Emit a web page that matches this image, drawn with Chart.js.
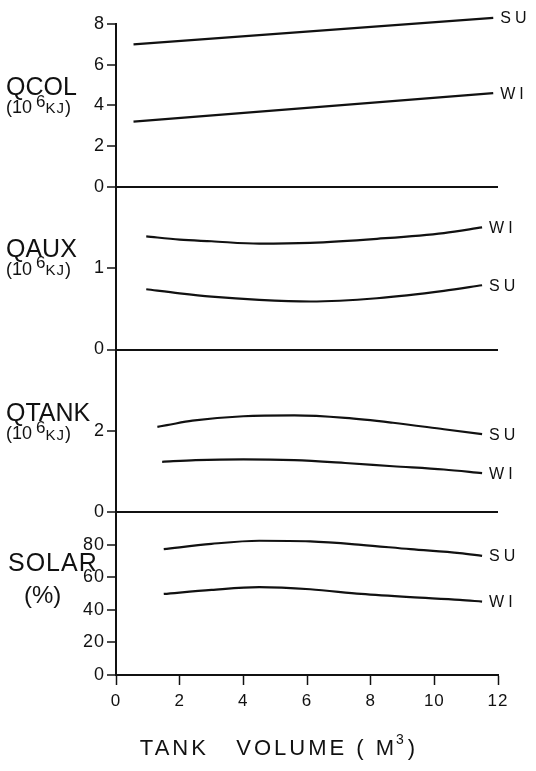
<!DOCTYPE html>
<html>
<head>
<meta charset="utf-8">
<script src="https://cdn.jsdelivr.net/npm/chart.js@4/dist/chart.umd.min.js"></script>
<style>
  html, body { margin: 0; padding: 0; background: #fff; }
  #wrap { width: 536px; height: 771px; }
</style>
</head>
<body>
<div id="wrap"><canvas id="c"></canvas></div>
<script>
// Collected heat, summer (SU) and winter (WI), 10^6 kJ
const qcolVol = [0.55, 11.85];
const qcolSU  = [7.0, 8.3];
const qcolWI  = [3.2, 4.6];

// Auxiliary heat, 10^6 kJ
const qauxVol = [0.95, 2.0, 3.0, 4.5, 6.1, 8.2, 10.3, 11.5];
const qauxWI  = [1.39, 1.35, 1.33, 1.30, 1.31, 1.36, 1.43, 1.50];
const qauxSU  = [0.74, 0.69, 0.65, 0.61, 0.59, 0.63, 0.72, 0.79];

// Tank heat, 10^6 kJ
const qtankVolSU = [1.3, 1.6, 2.4, 4.0, 5.6, 7.2, 8.7, 10.3, 11.5];
const qtankSU    = [2.10, 2.14, 2.25, 2.36, 2.38, 2.32, 2.20, 2.04, 1.92];
const qtankVolWI = [1.45, 2.5, 4.0, 5.6, 7.2, 8.7, 10.3, 11.5];
const qtankWI    = [1.24, 1.28, 1.30, 1.28, 1.21, 1.13, 1.05, 0.96];

// Solar fraction, %
const solarVol = [1.5, 3.0, 4.5, 6.1, 7.7, 9.25, 10.8, 11.5];
const solarSU  = [77.3, 80.6, 82.5, 82.1, 80.0, 77.3, 74.9, 73.2];
const solarWI  = [49.8, 52.3, 54.0, 52.7, 49.8, 47.8, 46.2, 45.1];

// Axis ticks
const volumeTicks = [0, 2, 4, 6, 8, 10, 12];
const qcolTicks   = [0, 2, 4, 6, 8];
const qauxTicks   = [0, 1];
const qtankTicks  = [0, 2];
const solarTicks  = [0, 20, 40, 60, 80];
const qcolMax = 8, qauxMax = 2, qtankMax = 4, solarMax = 100;

const INK = '#111';
const FONT = "'Liberation Sans', Arial, sans-serif";

const pts = (xs, ys) => xs.map((x, i) => ({ x, y: ys[i] }));
const series = (label, xs, ys, axis) => ({
  label, data: pts(xs, ys), yAxisID: axis,
  borderColor: INK, borderWidth: 2.2, pointRadius: 0,
  fill: false, cubicInterpolationMode: 'monotone', clip: false
});

const datasets = [
  series('SU', qcolVol, qcolSU, 'yCol'),
  series('WI', qcolVol, qcolWI, 'yCol'),
  series('WI', qauxVol, qauxWI, 'yAux'),
  series('SU', qauxVol, qauxSU, 'yAux'),
  series('SU', qtankVolSU, qtankSU, 'yTank'),
  series('WI', qtankVolWI, qtankWI, 'yTank'),
  series('SU', solarVol, solarSU, 'ySolar'),
  series('WI', solarVol, solarWI, 'ySolar')
];

function yPanel(max, tickList) {
  return {
    type: 'linear', position: 'left', stack: 'panels', stackWeight: 1,
    min: 0, max,
    afterBuildTicks: s => { s.ticks = tickList.map(v => ({ value: v })); },
    afterFit: s => { s.width = 116; },
    ticks: { color: INK, font: { family: FONT, size: 18 }, padding: 2, autoSkip: false },
    grid: {
      drawOnChartArea: true,
      color: c => (c.tick && c.tick.value === 0) ? INK : 'rgba(0,0,0,0)',
      lineWidth: 2,
      tickColor: INK, tickWidth: 1.5, tickLength: 9
    },
    border: { display: true, color: INK, width: 2 }
  };
}

// Side titles, series names and the volume axis title
const annotate = {
  id: 'annotate',
  beforeDraw(chart) { chart.ctx.letterSpacing = '1px'; },
  afterDatasetsDraw(chart) {
    const ctx = chart.ctx;
    ctx.save();
    ctx.fillStyle = INK;
    ctx.font = `16px ${FONT}`;
    ctx.letterSpacing = '4px';
    ctx.textBaseline = 'middle';
    ctx.textAlign = 'left';
    chart.data.datasets.forEach((ds, i) => {
      const pts = chart.getDatasetMeta(i).data;
      const last = pts[pts.length - 1];
      ctx.fillText(ds.label, last.x + 7, last.y + 1);
    });
    ctx.restore();
  },
  afterDraw(chart) {
    const ctx = chart.ctx;
    ctx.save();
    ctx.fillStyle = INK;
    ctx.textBaseline = 'middle';
    ctx.textAlign = 'left';

    const units = (x, y) => {
      ctx.letterSpacing = '0px';
      ctx.font = `18px ${FONT}`;
      ctx.fillText('(10', x, y);
      let cx = x + ctx.measureText('(10').width + 4;
      ctx.font = `17px ${FONT}`;
      ctx.fillText('6', cx, y - 6);
      cx += ctx.measureText('6').width;
      ctx.font = `15px ${FONT}`;
      ctx.letterSpacing = '1px';
      ctx.fillText('KJ', cx, y + 1);
      cx += ctx.measureText('KJ').width;
      ctx.letterSpacing = '0px';
      ctx.font = `18px ${FONT}`;
      ctx.fillText(')', cx, y);
    };
    const head = (text, x, y, spacing) => {
      ctx.letterSpacing = spacing;
      ctx.font = `25px ${FONT}`;
      ctx.fillText(text, x, y);
    };

    const s = chart.scales;
    head('QCOL', 6, s.yCol.top + 64, '0px');
    units(6, s.yCol.top + 84);
    head('QAUX', 6, s.yAux.top + 63, '0px');
    units(6, s.yAux.top + 83);
    head('QTANK', 6, s.yTank.top + 65, '0px');
    units(6, s.yTank.top + 85);
    head('SOLAR', 8, s.ySolar.top + 52, '1px');
    ctx.letterSpacing = '0px';
    ctx.font = `24px ${FONT}`;
    ctx.fillText('(%)', 24, s.ySolar.top + 84);

    // volume axis title
    const x0 = s.x;
    const yT = x0.bottom - 22;
    ctx.font = `22px ${FONT}`;
    ctx.letterSpacing = '3px';
    const a = 'TANK   VOLUME ( M';
    const wA = ctx.measureText(a).width;
    ctx.font = `14px ${FONT}`;
    const wS = ctx.measureText('3').width;
    ctx.font = `22px ${FONT}`;
    const wB = ctx.measureText(')').width;
    let tx = 142 + (274 - (wA + wS + wB)) / 2;
    ctx.fillText(a, tx, yT);
    tx += wA;
    ctx.font = `14px ${FONT}`;
    ctx.fillText('3', tx - 1, yT - 9);
    tx += wS;
    ctx.font = `22px ${FONT}`;
    ctx.fillText(')', tx, yT);
    ctx.restore();
    ctx.letterSpacing = '0px';
  }
};

new Chart(document.getElementById('c'), {
  type: 'line',
  data: { datasets },
  options: {
    responsive: true,
    maintainAspectRatio: false,
    animation: false,
    events: [],
    layout: { padding: { left: 0, right: 38, top: 24, bottom: 0 } },
    plugins: { legend: { display: false }, tooltip: { enabled: false } },
    scales: {
      x: {
        type: 'linear', position: 'bottom', min: 0, max: 12,
        afterBuildTicks: s => { s.ticks = volumeTicks.map(v => ({ value: v })); },
        afterFit: s => { s.height = 96; },
        ticks: { color: INK, font: { family: FONT, size: 17 }, padding: 6, autoSkip: false, maxRotation: 0 },
        grid: { drawOnChartArea: false, tickColor: INK, tickWidth: 1.5, tickLength: 10 },
        border: { display: true, color: INK, width: 2 }
      },
      ySolar: yPanel(solarMax, solarTicks),
      yTank: yPanel(qtankMax, qtankTicks),
      yAux: yPanel(qauxMax, qauxTicks),
      yCol: yPanel(qcolMax, qcolTicks)
    }
  },
  plugins: [annotate]
});
</script>
</body>
</html>
